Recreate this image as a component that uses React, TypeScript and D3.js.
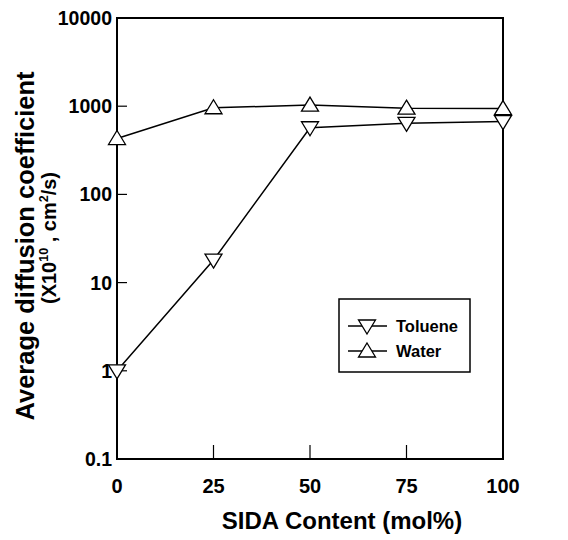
import { useEffect, useRef } from "react";
import * as d3 from "d3";

const sida = [0, 25, 50, 75, 100];
const toluene = [1.0, 18, 570, 640, 670];
const water = [430, 960, 1030, 950, 940];
const yTicks = [0.1, 1, 10, 100, 1000, 10000];
const xTicks = [0, 25, 50, 75, 100];
const yTickLabels = ["0.1", "1", "10", "100", "1000", "10000"];

const W = 568;
const H = 540;
const margin = { left: 117, right: 65, top: 18, bottom: 81 };
const FONT = "'Liberation Sans', Arial, Helvetica, sans-serif";

export default function App() {
  const svgRef = useRef<SVGSVGElement>(null);

  useEffect(() => {
    if (!svgRef.current) return;
    const svg = d3.select(svgRef.current);
    svg.selectAll("*").remove();

    const x = d3.scaleLinear().domain([0, 100]).range([margin.left, W - margin.right]);
    const y = d3.scaleLog().domain([0.1, 10000]).range([H - margin.bottom, margin.top]);

    const g = svg.append("g");

    // frame
    g.append("rect")
      .attr("x", x(0))
      .attr("y", y(10000))
      .attr("width", x(100) - x(0))
      .attr("height", y(0.1) - y(10000))
      .attr("fill", "none")
      .attr("stroke", "#000")
      .attr("stroke-width", 2);

    // y ticks (inward)
    g.selectAll("line.yt")
      .data(yTicks.slice(1, -1))
      .join("line")
      .attr("x1", x(0))
      .attr("x2", x(0) + 10)
      .attr("y1", (d) => y(d))
      .attr("y2", (d) => y(d))
      .attr("stroke", "#000")
      .attr("stroke-width", 1.2);

    g.selectAll("text.yl")
      .data(yTicks)
      .join("text")
      .attr("x", x(0) - 5)
      .attr("y", (d) => y(d))
      .attr("dy", "0.36em")
      .attr("text-anchor", "end")
      .attr("font-family", FONT)
      .attr("font-weight", "bold")
      .attr("font-size", 19.5)
      .text((_, i) => yTickLabels[i]);

    // x ticks (inward)
    g.selectAll("line.xt")
      .data(xTicks.slice(1, -1))
      .join("line")
      .attr("x1", (d) => x(d))
      .attr("x2", (d) => x(d))
      .attr("y1", y(0.1))
      .attr("y2", y(0.1) - 14)
      .attr("stroke", "#000")
      .attr("stroke-width", 1.2);

    g.selectAll("text.xl")
      .data(xTicks)
      .join("text")
      .attr("x", (d) => x(d))
      .attr("y", 493)
      .attr("text-anchor", "middle")
      .attr("font-family", FONT)
      .attr("font-weight", "bold")
      .attr("font-size", 20)
      .text((d) => String(d));

    // axis titles
    g.append("text")
      .attr("x", 342)
      .attr("y", 529)
      .attr("text-anchor", "middle")
      .attr("font-family", FONT)
      .attr("font-weight", "bold")
      .attr("font-size", 24)
      .text("SIDA Content (mol%)");

    g.append("text")
      .attr("transform", `translate(34,246) rotate(-90)`)
      .attr("text-anchor", "middle")
      .attr("font-family", FONT)
      .attr("font-weight", "bold")
      .attr("font-size", 25.5)
      .text("Average diffusion coefficient");

    const t2 = g.append("text")
      .attr("transform", `translate(56,238) rotate(-90)`)
      .attr("text-anchor", "middle")
      .attr("font-family", FONT)
      .attr("font-weight", "bold")
      .attr("font-size", 20);
    t2.append("tspan").text("(X10");
    t2.append("tspan").attr("dy", -8).attr("font-size", 12.5).text("10");
    t2.append("tspan").attr("dy", 8).text(" , cm");
    t2.append("tspan").attr("dy", -8).attr("font-size", 12.5).text("2");
    t2.append("tspan").attr("dy", 8).text("/s)");

    const line = d3
      .line<number>()
      .x((_, i) => x(sida[i]))
      .y((d) => y(d));

    const tri = (up: boolean) => {
      const hw = 8.5;
      return up
        ? `M0,-8L${hw},6L${-hw},6Z`
        : `M0,8L${hw},-6L${-hw},-6Z`;
    };

    const series = [
      { values: water, up: true },
      { values: toluene, up: false },
    ];

    series.forEach((s) => {
      g.append("path")
        .attr("d", line(s.values))
        .attr("fill", "none")
        .attr("stroke", "#000")
        .attr("stroke-width", 1.5);
    });
    series.forEach((s) => {
      g.selectAll(null)
        .data(s.values)
        .join("path")
        .attr("transform", (d, i) => `translate(${x(sida[i])},${y(d)})`)
        .attr("d", tri(s.up))
        .attr("fill", "#fff")
        .attr("stroke", "#000")
        .attr("stroke-width", 1.3);
    });

    // legend
    const lg = g.append("g");
    lg.append("rect")
      .attr("x", 339)
      .attr("y", 299)
      .attr("width", 131)
      .attr("height", 73)
      .attr("fill", "#fff")
      .attr("stroke", "#000")
      .attr("stroke-width", 1.5);
    const items = [
      { label: "Toluene", up: false, yy: 326 },
      { label: "Water", up: true, yy: 351 },
    ];
    items.forEach((it) => {
      lg.append("line")
        .attr("x1", 348)
        .attr("x2", 387)
        .attr("y1", it.yy)
        .attr("y2", it.yy)
        .attr("stroke", "#000")
        .attr("stroke-width", 1.3);
      lg.append("path")
        .attr("transform", `translate(367,${it.yy})`)
        .attr("d", tri(it.up))
        .attr("fill", "#fff")
        .attr("stroke", "#000")
        .attr("stroke-width", 1.3);
      lg.append("text")
        .attr("x", 396)
        .attr("y", it.yy)
        .attr("dy", "0.36em")
        .attr("font-family", FONT)
        .attr("font-weight", "bold")
        .attr("font-size", 16.5)
        .text(it.label);
    });
  }, []);

  return (
    <svg
      ref={svgRef}
      width={W}
      height={H}
      style={{ position: "absolute", left: 0, top: 0, background: "#fff" }}
    />
  );
}
